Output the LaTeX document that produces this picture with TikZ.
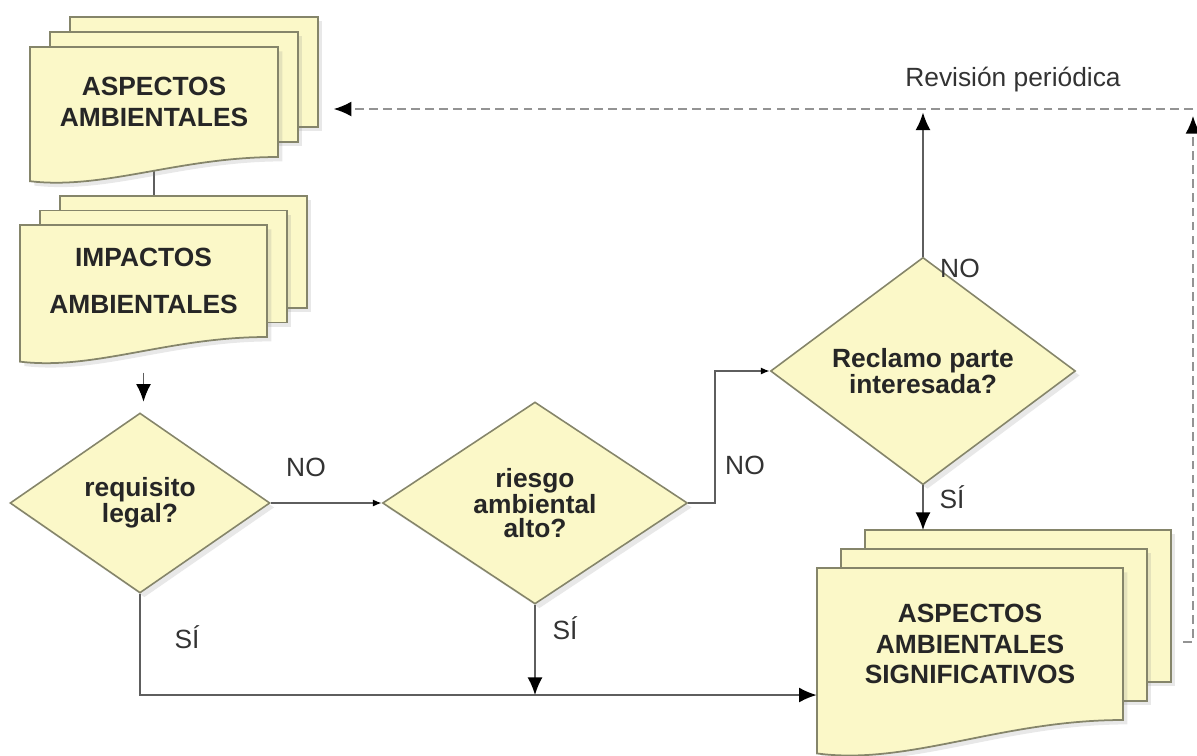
\documentclass[tikz,border=0pt]{standalone}
\usepackage{fontspec}
\setmainfont{Liberation Sans}
\usetikzlibrary{shapes.geometric, arrows.meta, calc, backgrounds, shadows}
\usepackage{xcolor}

\definecolor{crema}{HTML}{FBF8C8}
\definecolor{borde}{HTML}{85856A}
\definecolor{gris}{HTML}{5E5E5E}

\tikzset{
	hoja/.style={draw=borde, line width=1pt, fill=crema,
		drop shadow={opacity=0.18, shadow xshift=2.5pt, shadow yshift=-2.5pt}},
	texto/.style={font=\bfseries\fontsize{15}{17.5}\selectfont, align=center, text=black!85, inner sep=0},
	decision/.style={diamond, draw=borde, line width=0.9pt, fill=crema,
		drop shadow={opacity=0.18, shadow xshift=2.5pt, shadow yshift=-2.5pt},
		font=\bfseries\fontsize{15}{13.5}\selectfont, align=center, text=black!85, inner sep=0},
	etiqueta/.style={font=\fontsize{15}{17}\selectfont, text=black!80},
	flecha/.style={draw=gris, line width=0.9pt, -{Latex[length=10pt,width=8.5pt,color=black]}},
	flechita/.style={draw=gris, line width=0.9pt, -{Latex[length=5pt,width=4pt,color=black]}},
	union/.style={draw=gris, line width=0.9pt},
	discont/.style={draw=gray!85, line width=0.9pt, dash pattern=on 5pt off 3pt}
}

% pila de documentos: nombre, x, y (hoja delantera), ancho, alto, dx, dy, texto
\newcommand{\pila}[8]{%
	\draw[hoja] ({#2+2*#6},{#3-2*#7}) rectangle ++(#4,#5);
	\draw[hoja] ({#2+#6},{#3-#7}) rectangle ++(#4,#5);
	\draw[hoja] (#2,#3) -- ({#2+#4},#3) -- ({#2+#4},{#3+#5})
		.. controls ({#2+0.6*#4},{#3+#5}) and ({#2+0.3*#4},{#3+1.3*#5}) .. (#2,{#3+1.22*#5}) -- cycle;
	\node[texto, minimum width=#4*0.02cm, minimum height=#5*0.02cm] (#1) at ({#2+#4/2},{#3+#5/2}) {#8};
	\coordinate (#1-tl) at ({#2+2*#6},{#3-2*#7});
	\coordinate (#1-tr) at ({#2+2*#6+#4},{#3-2*#7});
}

\begin{document}
\begin{tikzpicture}[x=0.02cm, y=-0.02cm]
	\useasboundingbox (0,0) rectangle (1197,755);

	\pila{aa}{30}{47}{248}{110}{20}{15}{ASPECTOS\\AMBIENTALES}
	\pila{ia}{20}{225}{247}{112}{20}{14.5}{IMPACTOS\\[9pt]AMBIENTALES}
	\pila{sig}{817}{568}{306}{152}{24}{19}{ASPECTOS\\AMBIENTALES\\SIGNIFICATIVOS}

	\draw (140,503) node[decision, minimum width=5.2cm, minimum height=3.6cm] (req) {requisito\\legal?}
		(535,503) node[decision, minimum width=6.1cm, minimum height=4.04cm] (riesgo) {riesgo\\ambiental\\alto?}
		(923,371) node[decision, minimum width=6.1cm, minimum height=4.06cm] (reclamo) {Reclamo parte\\interesada?};

	\coordinate (esq) at (1193,109);
	\coordinate (junta) at (528,695);
	\coordinate (ret) at ($(sig-tr)+(12,112)$);

	\begin{scope}[on background layer]
		\draw[union] (aa.south) -- (aa.south |- ia-tl);
	\end{scope}
	\draw[flecha, shorten <=20pt, shorten >=6pt] (ia.south) -- (ia.south |- req.north);
	\draw[flechita] (req.east) -- (riesgo.west);
	\draw[flechita] (riesgo.east) -- ++(27,0) |- (reclamo.west);
	\draw[flecha, shorten >=2pt] (reclamo.north) -- (reclamo.north |- esq);
	\draw[flecha] (reclamo.south) -- (reclamo.south |- sig-tl);
	\draw[flecha] (req.south) |- (sig.west |- junta);
	\draw[flecha] (riesgo.south) -- (riesgo.south |- junta);
	\draw[discont, -{Latex[length=10pt,width=8.5pt,color=black]}, shorten >=4pt] (ret) -- (ret -| esq) -- (esq);
	\draw[discont, -{Latex[length=10pt,width=8.5pt,color=black]}, shorten >=9pt] (esq) -- (aa-tr |- esq);

	\path (306,467) node[etiqueta] (no1) {NO}
		(187,637) node[etiqueta] (si1) {SÍ}
		(565,628) node[etiqueta] (si2) {SÍ}
		(745,465) node[etiqueta] (no2) {NO}
		(960,268) node[etiqueta] (no3) {NO}
		(952,497) node[etiqueta] (si3) {SÍ}
		(1013,80) node[etiqueta] (rev) {Revisión periódica};
\end{tikzpicture}
\end{document}
